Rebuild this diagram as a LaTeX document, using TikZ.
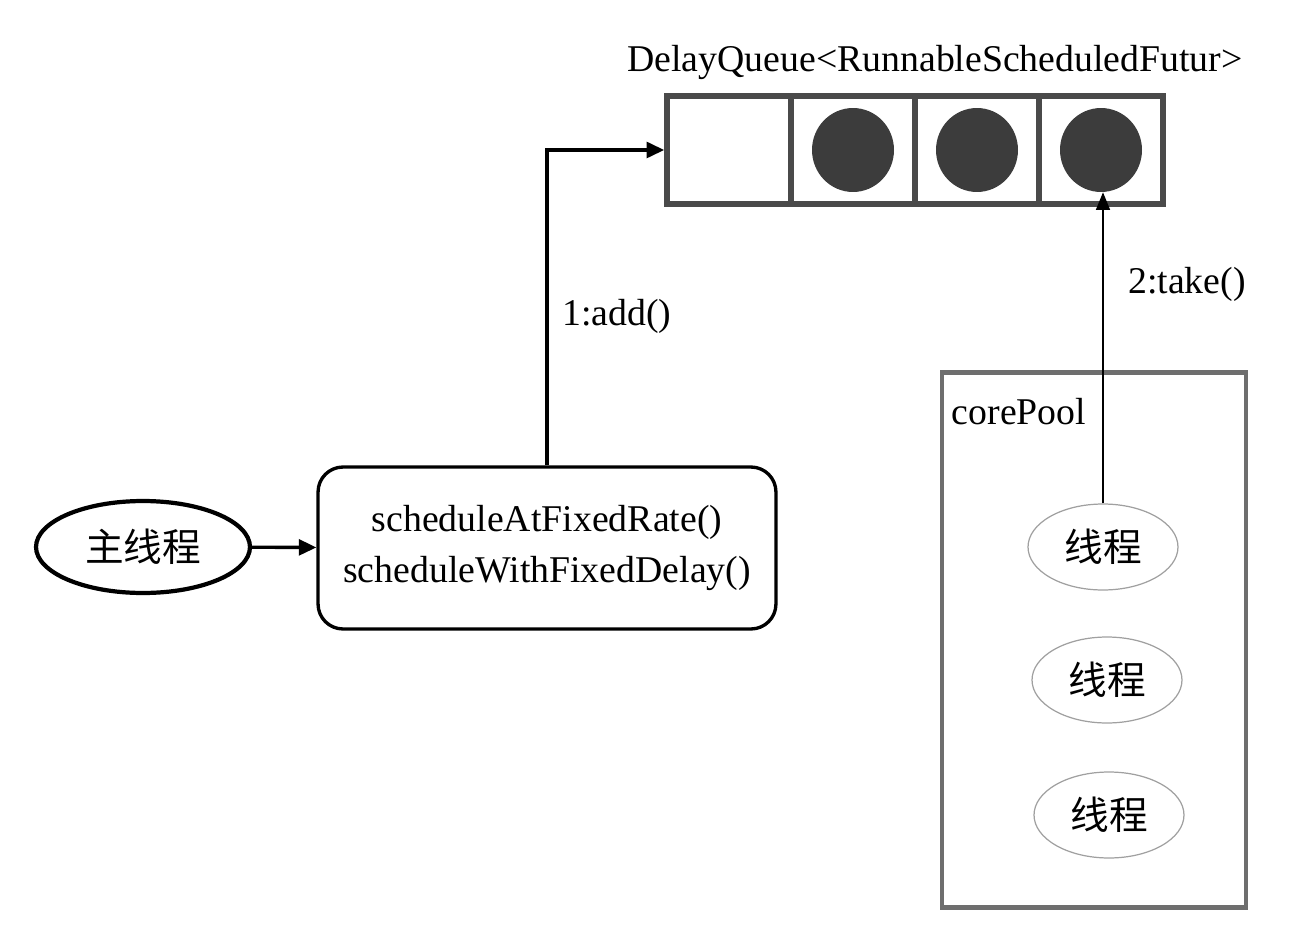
\documentclass[tikz,border=0pt]{standalone}
\usepackage{fontspec}
\setmainfont{Liberation Serif}
\newfontfamily\cjk{Noto Sans CJK SC}
\usetikzlibrary{shapes.geometric,arrows.meta,positioning}
\definecolor{boxgray}{HTML}{4A4A4A}
\definecolor{ballgray}{HTML}{3C3C3C}
\definecolor{poolgray}{HTML}{6E6E6E}
\definecolor{thingray}{HTML}{A0A0A0}
\tikzset{font=\fontsize{21.5}{26}\selectfont, inner sep=0pt}

\begin{document}
\begin{tikzpicture}[x=0.02cm,y=-0.02cm,
    cell/.style={draw=boxgray,line width=3.2pt,minimum width=2.48cm,minimum height=2.16cm},
    ball/.style={ellipse,fill=ballgray,minimum width=1.64cm,minimum height=1.68cm},
    thread/.style={ellipse,draw=thingray,line width=0.7pt,minimum width=3cm,minimum height=1.72cm,font=\cjk\fontsize{22}{26}\selectfont},
    arr/.style={-{Triangle[length=10pt,width=9pt]},line width=1.9pt},
    thinarr/.style={-{Triangle[length=10pt,width=8pt]},line width=0.8pt}]
    \useasboundingbox (0,0) rectangle (1292,936);
    \node (qlabel) at (935,62) {DelayQueue<RunnableScheduledFutur>};
    \foreach \i in {0,...,3}
        \node[cell] (c\i) at (729+124*\i,150) {};
    \foreach \i in {1,2,3}
        \node[ball] (b\i) at (c\i) {};
    \node[ellipse,draw,line width=2.4pt,minimum width=4.28cm,minimum height=1.84cm,font=\cjk\fontsize{22}{26}\selectfont] (main) at (143,547) {主线程};
    \node[draw,line width=1.9pt,rounded corners=0.5cm,minimum width=9.16cm,minimum height=3.24cm,align=center,font=\fontsize{21.5}{29}\selectfont] (sched) at (547,548) {scheduleAtFixedRate()\\scheduleWithFixedDelay()};
    \node[draw=poolgray,line width=2.8pt,minimum width=6.08cm,minimum height=10.7cm] (pool) at (1094,640) {};
    \node (poolname) at (1019,412) {corePool};
    \node[thread] (t1) at (1103,547) {线程};
    \node[thread] (t2) at (1107,680) {线程};
    \node[thread] (t3) at (1109,815) {线程};
    \draw[arr] (main) -- (sched);
    \draw[arr] (sched.north) |- (c0.west);
    \node (add) at (617,316) {1:add()};
    \draw[thinarr] (t1.north) -- (t1.north |- b3.south);
    \node (take) at (1187,284) {2:take()};
\end{tikzpicture}
\end{document}
